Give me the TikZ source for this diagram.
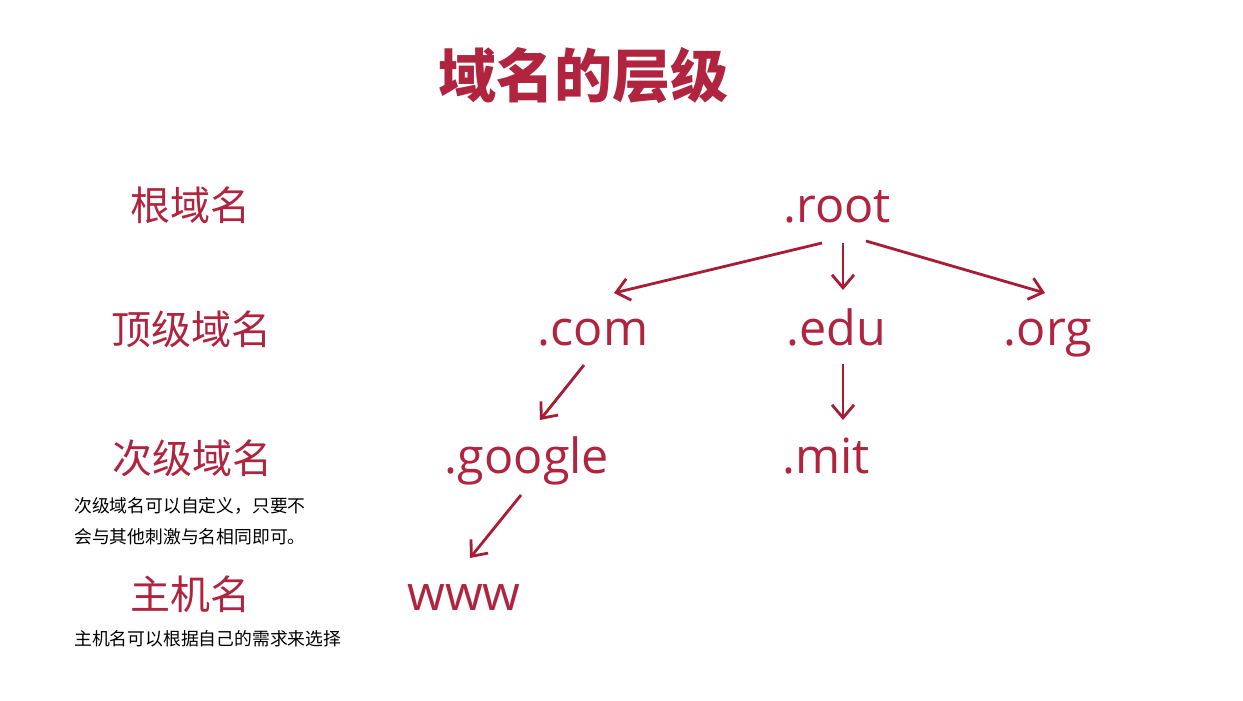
\documentclass[tikz,border=0pt]{standalone}
\usepackage{fontspec}
\setmainfont{Open Sans}
\newfontfamily\cjk{Noto Sans CJK SC}
\usetikzlibrary{arrows.meta}
\definecolor{crim}{HTML}{B0243F}
\definecolor{arrc}{HTML}{A81C36}
\begin{document}
\begin{tikzpicture}[x=1pt,y=-1pt,
  lat/.style={anchor=base,inner sep=0pt,text=crim,font=\fontsize{48.5}{52}\selectfont},
  lvl/.style={anchor=base,inner sep=0pt,text=crim,font=\cjk\fontsize{40}{44}\selectfont},
  note/.style={anchor=base west,inner sep=0pt,text=black,font=\cjk\fontsize{17.8}{20}\selectfont},
  arr/.style={draw=arrc,line width=2.8pt,-{Straight Barb[length=13pt,width=22pt]}}]
\useasboundingbox[fill=white] (0,0) rectangle (1243,701);
% title
\node[anchor=base,inner sep=0pt,text=crim,font=\cjk\bfseries\fontsize{58}{62}\selectfont] (title) at (583,98) {域名的层级};
% level labels
\node[lvl] (l1) at (190,220) {根域名};
\node[lvl] (l2) at (191,344) {顶级域名};
\node[lvl] (l3) at (192,473) {次级域名};
\node[lvl] (l4) at (190,609) {主机名};
\node[note] (n1) at (74,512) {次级域名可以自定义，只要不};
\node[note] (n2) at (74,543) {会与其他刺激与名相同即可。};
\node[note] (n3) at (74,645) {主机名可以根据自己的需求来选择};
% tree
\node[lat] (root) at (837,222) {.root};
\node[lat] (com) at (593,345) {.com};
\node[lat] (edu) at (836,345) {.edu};
\node[lat] (org) at (1048,345) {.org};
\node[lat] (google) at (527,473) {.google};
\node[lat] (mit) at (826,473) {.mit};
\node[lat] (www) at (464,610) {www};
% arrows (shifts relative to text baselines)
\draw[arr] ([shift={(-15,21)}]root.base) -- ([shift={(21,-52)}]com.base);
\draw[arr] ([shift={(6,21)}]root.base) -- ([shift={(7,-55)}]edu.base);
\draw[arr] ([shift={(29,19)}]root.base) -- ([shift={(-3,-52)}]org.base);
\draw[arr] ([shift={(-9,20)}]com.base) -- ([shift={(13,-53)}]google.base);
\draw[arr] ([shift={(7,19)}]edu.base) -- ([shift={(17,-53)}]mit.base);
\draw[arr] ([shift={(-6,22)}]google.base) -- ([shift={(6,-52)}]www.base);
\end{tikzpicture}
\end{document}
